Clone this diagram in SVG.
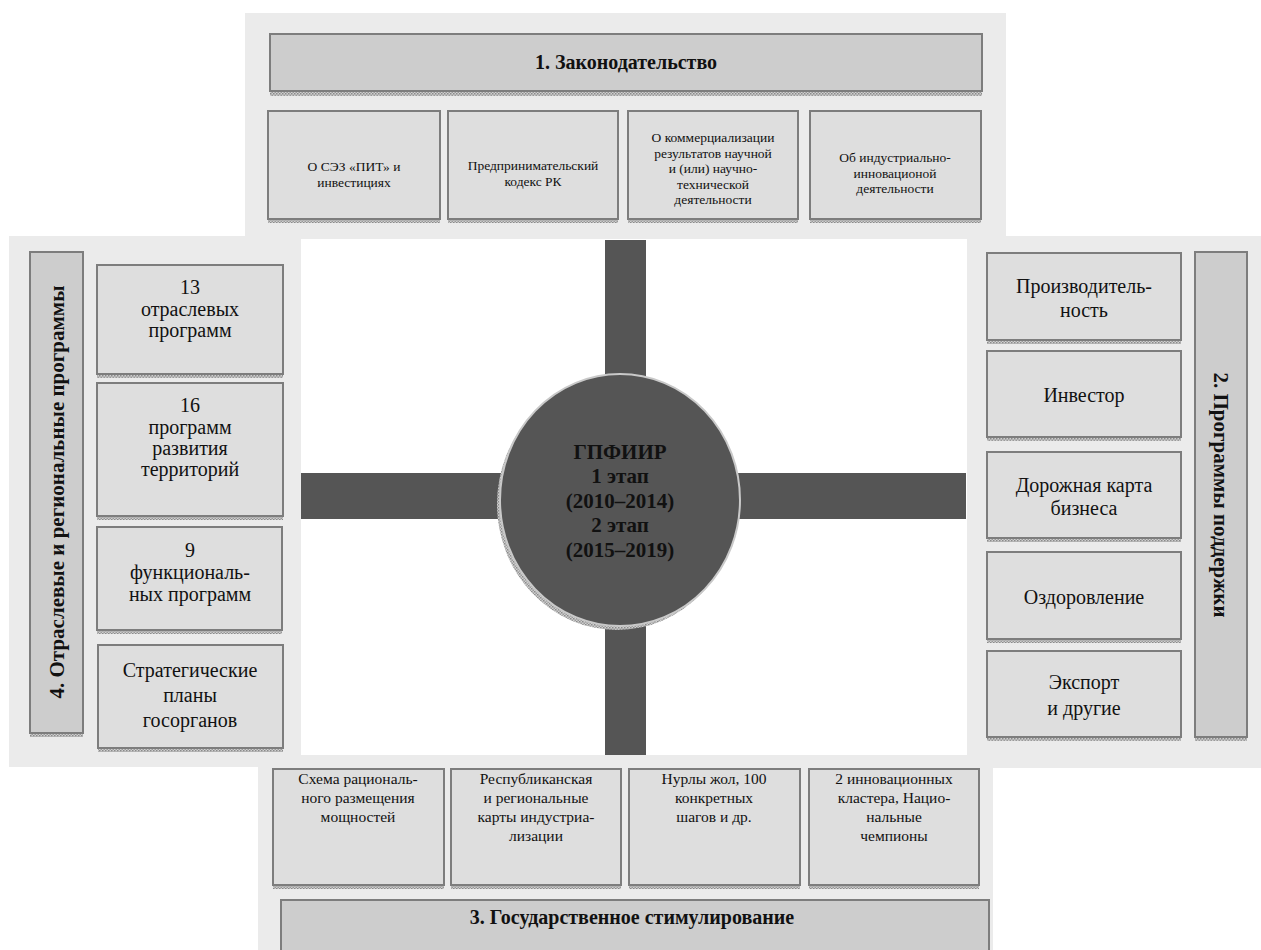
<svg xmlns="http://www.w3.org/2000/svg" width="1261" height="950" viewBox="0 0 1261 950">
<defs>
<pattern id="hatch" width="3" height="3" patternUnits="userSpaceOnUse"><rect width="3" height="3" fill="#cfcfcf"/><rect width="1.5" height="1.5" fill="#8a8a8a"/><rect x="1.5" y="1.5" width="1.5" height="1.5" fill="#9a9a9a"/></pattern>
</defs>
<style>
.bg{fill:#ebebeb}
.box{fill:#dedede;stroke:#7d7d7d;stroke-width:2}
.bar{fill:#cdcdcd;stroke:#7d7d7d;stroke-width:2}
.sh{fill:url(#hatch)}
.arm{fill:#555555}
.t{font-family:"Liberation Serif","Times New Roman",serif;fill:#111;text-anchor:middle;dominant-baseline:central}
.s13{font-size:13.5px}
.s16{font-size:15.5px}
.s20{font-size:20px}
.s21{font-size:21px}
.b{font-weight:bold}
</style>
<rect width="1261" height="950" fill="#ffffff"/>
<g id="background">
<rect class="bg" x="245" y="13" width="761" height="226"/>
<rect class="bg" x="9" y="236" width="292" height="531"/>
<rect class="bg" x="967" y="236" width="294" height="532"/>
<rect class="bg" x="258" y="755" width="735" height="195"/>
<rect x="301" y="240" width="665" height="515" fill="#ffffff"/>
</g>
<g id="connectors">
<rect class="arm" x="301" y="473" width="665" height="46"/>
<rect class="arm" x="605" y="240" width="41" height="515"/>
</g>
<g id="center">
<ellipse class="sh" cx="617" cy="504" rx="120" ry="126"/>
<ellipse cx="620" cy="500" rx="120" ry="126" fill="#555555" stroke="#c9c9c9" stroke-width="2"/>
<text class="t s21 b"><tspan x="620" y="452">ГПФИИР</tspan><tspan x="620" y="476">1 этап</tspan><tspan x="620" y="501">(2010–2014)</tspan><tspan x="620" y="525">2 этап</tspan><tspan x="620" y="550">(2015–2019)</tspan></text>
</g>
<g id="top-title">
<rect class="sh" x="270" y="91" width="712" height="5"/>
<rect class="bar" x="270" y="34" width="712" height="57"/>
<text class="t s20 b" x="626" y="62">1. Законодательство</text>
</g>
<g id="top-1">
<rect class="sh" x="268" y="219" width="172" height="4"/>
<rect class="box" x="268" y="111" width="172" height="108"/>
<text class="t s13"><tspan x="354" y="166">О СЭЗ «ПИТ» и</tspan><tspan x="354" y="182">инвестициях</tspan></text>
</g>
<g id="top-2">
<rect class="sh" x="448" y="219" width="170" height="4"/>
<rect class="box" x="448" y="111" width="170" height="108"/>
<text class="t s13"><tspan x="533" y="165">Предпринимательский</tspan><tspan x="533" y="181">кодекс РК</tspan></text>
</g>
<g id="top-3">
<rect class="sh" x="628" y="219" width="170" height="4"/>
<rect class="box" x="628" y="111" width="170" height="108"/>
<text class="t s13"><tspan x="713" y="137">О коммерциализации</tspan><tspan x="713" y="152.5">результатов научной</tspan><tspan x="713" y="168">и (или) научно-</tspan><tspan x="713" y="183.5">технической</tspan><tspan x="713" y="199">деятельности</tspan></text>
</g>
<g id="top-4">
<rect class="sh" x="810" y="219" width="171" height="4"/>
<rect class="box" x="810" y="111" width="171" height="108"/>
<text class="t s13"><tspan x="895" y="157">Об индустриально-</tspan><tspan x="895" y="172.5">инновационой</tspan><tspan x="895" y="188">деятельности</tspan></text>
</g>
<g id="left-title">
<rect class="sh" x="30" y="733" width="53" height="4"/>
<rect class="bar" x="30" y="252" width="53" height="481"/>
<text class="t s21 b" transform="translate(57 492) rotate(-90)" x="0" y="0">4. Отраслевые и региональные программы</text>
</g>
<g id="left-1">
<rect class="sh" x="97" y="374" width="186" height="4"/>
<rect class="box" x="97" y="265" width="186" height="109"/>
<text class="t s20"><tspan x="190" y="287">13</tspan><tspan x="190" y="309">отраслевых</tspan><tspan x="190" y="330">программ</tspan></text>
</g>
<g id="left-2">
<rect class="sh" x="97" y="516" width="186" height="4"/>
<rect class="box" x="97" y="383" width="186" height="133"/>
<text class="t s20"><tspan x="190" y="405">16</tspan><tspan x="190" y="427">программ</tspan><tspan x="190" y="448">развития</tspan><tspan x="190" y="469">территорий</tspan></text>
</g>
<g id="left-3">
<rect class="sh" x="97" y="630" width="185" height="4"/>
<rect class="box" x="97" y="527" width="185" height="103"/>
<text class="t s20"><tspan x="190" y="550">9</tspan><tspan x="190" y="572">функциональ-</tspan><tspan x="190" y="594">ных программ</tspan></text>
</g>
<g id="left-4">
<rect class="sh" x="98" y="748" width="185" height="4"/>
<rect class="box" x="98" y="645" width="185" height="103"/>
<text class="t s20"><tspan x="190" y="670">Стратегические</tspan><tspan x="190" y="695">планы</tspan><tspan x="190" y="720">госорганов</tspan></text>
</g>
<g id="right-title">
<rect class="sh" x="1195" y="737" width="52" height="4"/>
<rect class="bar" x="1195" y="252" width="52" height="485"/>
<text class="t s21 b" transform="translate(1221 495) rotate(90)" x="0" y="0">2. Программы поддержки</text>
</g>
<g id="right-1">
<rect class="sh" x="987" y="340" width="194" height="4"/>
<rect class="box" x="987" y="253" width="194" height="87"/>
<text class="t s20"><tspan x="1084" y="286">Производитель-</tspan><tspan x="1084" y="310">ность</tspan></text>
</g>
<g id="right-2">
<rect class="sh" x="987" y="437" width="194" height="4"/>
<rect class="box" x="987" y="351" width="194" height="86"/>
<text class="t s20" x="1084" y="395">Инвестор</text>
</g>
<g id="right-3">
<rect class="sh" x="987" y="538" width="194" height="4"/>
<rect class="box" x="987" y="452" width="194" height="86"/>
<text class="t s20"><tspan x="1084" y="485">Дорожная карта</tspan><tspan x="1084" y="508">бизнеса</tspan></text>
</g>
<g id="right-4">
<rect class="sh" x="987" y="639" width="194" height="4"/>
<rect class="box" x="987" y="552" width="194" height="87"/>
<text class="t s20" x="1084" y="597">Оздоровление</text>
</g>
<g id="right-5">
<rect class="sh" x="987" y="737" width="194" height="4"/>
<rect class="box" x="987" y="651" width="194" height="86"/>
<text class="t s20"><tspan x="1084" y="682">Экспорт</tspan><tspan x="1084" y="708">и другие</tspan></text>
</g>
<g id="bottom-1">
<rect class="sh" x="273" y="885" width="171" height="4"/>
<rect class="box" x="273" y="769" width="171" height="116"/>
<text class="t s16"><tspan x="358" y="778">Схема рациональ-</tspan><tspan x="358" y="797">ного размещения</tspan><tspan x="358" y="816">мощностей</tspan></text>
</g>
<g id="bottom-2">
<rect class="sh" x="451" y="885" width="170" height="4"/>
<rect class="box" x="451" y="769" width="170" height="116"/>
<text class="t s16"><tspan x="536" y="778">Республиканская</tspan><tspan x="536" y="797">и региональные</tspan><tspan x="536" y="816">карты индустриа-</tspan><tspan x="536" y="835">лизации</tspan></text>
</g>
<g id="bottom-3">
<rect class="sh" x="629" y="885" width="171" height="4"/>
<rect class="box" x="629" y="769" width="171" height="116"/>
<text class="t s16"><tspan x="714" y="778">Нурлы жол, 100</tspan><tspan x="714" y="797">конкретных</tspan><tspan x="714" y="816">шагов и др.</tspan></text>
</g>
<g id="bottom-4">
<rect class="sh" x="809" y="885" width="170" height="4"/>
<rect class="box" x="809" y="769" width="170" height="116"/>
<text class="t s16"><tspan x="894" y="778">2 инновационных</tspan><tspan x="894" y="797">кластера, Нацио-</tspan><tspan x="894" y="816">нальные</tspan><tspan x="894" y="835">чемпионы</tspan></text>
</g>
<g id="bottom-title">
<rect class="bar" x="281" y="900" width="708" height="62"/>
<text class="t s20 b" x="632" y="917">3. Государственное стимулирование</text>
</g>
</svg>
